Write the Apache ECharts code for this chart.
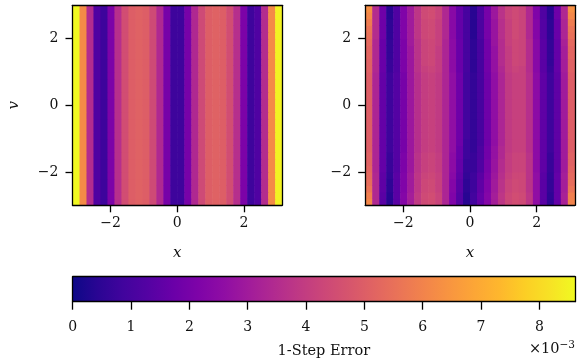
<!DOCTYPE html>
<html><head><meta charset="utf-8">
<script src="https://cdn.jsdelivr.net/npm/echarts@6/dist/echarts.min.js"></script>
<style>html,body{margin:0;padding:0;background:#fff}#c{width:581px;height:361px}</style>
</head><body><div id="c"></div>
<script>
// ---- data (error values in units of 1e-3) ----
const xRange = [-Math.PI, Math.PI];
const vRange = [-3, 3];
const xTicks = [-2, 0, 2];
const vTicks = [-2, 0, 2];
const cbTicks = [0, 1, 2, 3, 4, 5, 6, 7, 8];
const errMax = 8.61;
// left panel: error per x-column, constant along v
const leftCols = [8.6, 6.2, 3.5, 1.2, 0.8, 2.1, 3.6, 4.5, 5.0, 5.1, 5.0, 4.4, 3.4, 2.0, 0.8,
                  0.8, 2.0, 3.4, 4.4, 5.0, 5.1, 5.0, 4.5, 3.6, 2.1, 0.8, 1.2, 3.5, 6.2, 8.5];
// right panel: rows from v = -3 (first) to v = 3 (last)
const rightRows = [
 [6.1,3.4,1.4,0.4,1.4,2.3,3.1,3.9,4.4,4.5,4.2,3.3,2.2,1.3,0.4,0.9,1.6,2.3,3.1,3.8,4.3,4.5,4.4,3.8,2.6,1.4,0.5,1.6,3.2,6.0],
 [5.9,3.4,1.4,0.4,1.4,2.3,3.1,3.9,4.4,4.5,4.2,3.3,2.2,1.3,0.4,0.9,1.6,2.3,3.1,3.8,4.3,4.5,4.4,3.8,2.6,1.4,0.5,1.6,3.2,5.9],
 [5.6,3.4,1.5,0.5,1.4,2.2,3.0,3.8,4.3,4.4,4.1,3.3,2.3,1.4,0.5,0.8,1.5,2.2,3.0,3.7,4.2,4.4,4.3,3.7,2.6,1.4,0.6,1.6,3.1,5.6],
 [5.4,3.4,1.5,0.5,1.4,2.2,3.0,3.8,4.3,4.4,4.1,3.3,2.3,1.4,0.5,0.8,1.5,2.2,3.0,3.7,4.2,4.4,4.3,3.7,2.6,1.4,0.6,1.6,3.1,5.4],
 [5.3,3.4,1.5,0.6,1.4,2.2,3.0,3.8,4.2,4.3,4.1,3.3,2.4,1.5,0.6,0.8,1.4,2.1,2.9,3.6,4.1,4.3,4.3,3.7,2.6,1.4,0.6,1.6,3.1,5.3],
 [5.2,3.3,1.6,0.7,1.3,2.1,2.9,3.7,4.1,4.2,4.0,3.3,2.5,1.6,0.7,0.7,1.2,2.0,2.8,3.5,4.0,4.2,4.2,3.7,2.5,1.5,0.7,1.5,3.0,5.2],
 [5.1,3.3,1.6,0.7,1.3,2.1,2.9,3.7,4.1,4.2,4.0,3.3,2.5,1.6,0.7,0.7,1.2,2.0,2.8,3.5,4.0,4.2,4.2,3.7,2.5,1.5,0.7,1.5,3.0,5.1],
 [5.1,3.3,1.6,0.7,1.3,2.1,2.9,3.7,4.1,4.2,4.0,3.3,2.5,1.7,0.8,0.7,1.1,1.9,2.7,3.4,4.0,4.2,4.2,3.7,2.5,1.5,0.7,1.5,3.0,5.1],
 [5.0,3.3,1.6,0.8,1.3,2.0,2.9,3.6,4.0,4.1,3.9,3.3,2.6,1.7,0.8,0.6,1.1,1.9,2.7,3.4,3.9,4.1,4.1,3.6,2.5,1.5,0.8,1.5,3.0,5.0],
 [5.0,3.3,1.6,0.8,1.3,2.0,2.9,3.6,4.0,4.1,3.9,3.3,2.6,1.8,0.8,0.6,1.0,1.8,2.6,3.3,3.9,4.1,4.1,3.6,2.5,1.5,0.8,1.5,3.0,5.0],
 [5.0,3.3,1.6,0.8,1.3,2.0,2.9,3.6,4.0,4.1,3.9,3.3,2.6,1.8,0.9,0.6,1.0,1.8,2.6,3.3,3.9,4.1,4.1,3.6,2.5,1.5,0.8,1.5,3.0,5.0],
 [5.0,3.3,1.6,0.8,1.3,2.0,2.9,3.6,4.0,4.1,3.9,3.3,2.6,1.8,0.9,0.6,1.0,1.8,2.6,3.3,3.9,4.1,4.1,3.6,2.5,1.5,0.8,1.5,3.0,5.0],
 [5.0,3.3,1.6,0.8,1.3,2.0,2.9,3.6,4.0,4.1,3.9,3.3,2.6,1.8,0.9,0.6,1.0,1.8,2.6,3.3,3.9,4.1,4.1,3.6,2.5,1.5,0.8,1.5,3.0,5.0],
 [5.0,3.3,1.6,0.8,1.3,2.0,2.9,3.6,4.0,4.1,3.9,3.3,2.6,1.8,0.9,0.6,1.0,1.8,2.6,3.3,3.9,4.1,4.1,3.6,2.5,1.5,0.8,1.5,3.0,5.0],
 [5.0,3.3,1.6,0.8,1.3,2.0,2.9,3.6,4.0,4.1,3.9,3.3,2.6,1.8,0.9,0.6,1.0,1.8,2.6,3.3,3.9,4.1,4.1,3.6,2.5,1.5,0.8,1.5,3.0,5.0],
 [5.0,3.3,1.6,0.8,1.3,2.0,2.9,3.6,4.0,4.1,3.9,3.3,2.6,1.8,0.9,0.6,1.0,1.8,2.6,3.3,3.9,4.1,4.1,3.6,2.5,1.5,0.8,1.5,3.0,5.0],
 [5.0,3.3,1.6,0.8,1.3,2.0,2.9,3.6,4.0,4.1,3.9,3.3,2.6,1.8,0.9,0.6,1.0,1.8,2.6,3.3,3.9,4.1,4.1,3.6,2.5,1.5,0.8,1.5,3.0,5.0],
 [5.0,3.3,1.6,0.8,1.3,2.0,2.9,3.6,4.0,4.1,3.9,3.3,2.6,1.8,0.9,0.6,1.0,1.8,2.6,3.3,3.9,4.1,4.1,3.6,2.5,1.5,0.8,1.5,3.0,5.0],
 [5.0,3.3,1.6,0.8,1.3,2.0,2.9,3.6,4.0,4.1,3.9,3.3,2.6,1.8,0.9,0.6,1.0,1.8,2.6,3.3,3.9,4.1,4.1,3.6,2.5,1.5,0.8,1.5,3.0,5.0],
 [5.0,3.3,1.6,0.8,1.3,2.0,2.9,3.6,4.0,4.1,3.9,3.3,2.6,1.8,0.9,0.6,1.0,1.8,2.6,3.3,3.9,4.1,4.1,3.6,2.5,1.5,0.8,1.5,3.0,5.0],
 [5.1,3.4,1.7,0.7,1.2,2.1,2.9,3.7,4.1,4.2,4.0,3.3,2.5,1.7,1.0,0.5,1.0,1.9,2.7,3.4,4.0,4.2,4.1,3.5,2.4,1.4,0.7,1.6,3.1,5.1],
 [5.1,3.4,1.7,0.7,1.2,2.1,2.9,3.7,4.2,4.3,4.0,3.3,2.5,1.7,1.0,0.5,1.0,1.9,2.7,3.5,4.0,4.3,4.2,3.5,2.4,1.4,0.6,1.6,3.1,5.1],
 [5.2,3.4,1.7,0.6,1.2,2.1,2.9,3.7,4.2,4.3,4.0,3.3,2.5,1.7,1.0,0.5,1.0,1.9,2.7,3.5,4.0,4.3,4.2,3.5,2.4,1.4,0.6,1.6,3.1,5.2],
 [5.2,3.4,1.7,0.6,1.2,2.1,2.9,3.7,4.2,4.3,4.0,3.3,2.5,1.7,1.0,0.5,1.0,1.9,2.7,3.5,4.0,4.3,4.2,3.5,2.4,1.4,0.6,1.6,3.1,5.2],
 [5.3,3.4,1.7,0.6,1.2,2.1,3.0,3.7,4.2,4.3,4.1,3.3,2.5,1.7,1.0,0.5,1.0,1.9,2.8,3.5,4.1,4.3,4.2,3.5,2.4,1.4,0.6,1.6,3.2,5.3],
 [5.5,3.5,1.8,0.5,1.2,2.2,3.0,3.8,4.3,4.4,4.1,3.4,2.4,1.6,1.0,0.4,1.1,2.0,2.8,3.6,4.1,4.4,4.2,3.4,2.3,1.3,0.5,1.7,3.3,5.5],
 [5.6,3.5,1.8,0.5,1.2,2.2,3.0,3.8,4.3,4.4,4.1,3.4,2.4,1.6,1.0,0.4,1.1,2.0,2.8,3.6,4.1,4.4,4.2,3.4,2.3,1.3,0.5,1.7,3.3,5.6],
 [5.8,3.5,1.8,0.5,1.2,2.2,3.0,3.8,4.3,4.4,4.1,3.4,2.4,1.6,1.0,0.4,1.1,2.0,2.8,3.6,4.1,4.4,4.2,3.4,2.3,1.3,0.5,1.7,3.3,5.8],
 [6.1,3.5,1.8,0.4,1.2,2.2,3.0,3.8,4.4,4.5,4.2,3.4,2.4,1.6,1.0,0.4,1.1,2.0,2.9,3.7,4.2,4.4,4.2,3.4,2.2,1.2,0.4,1.8,3.4,6.1],
 [6.3,3.5,1.8,0.4,1.2,2.2,3.0,3.8,4.4,4.5,4.2,3.4,2.4,1.6,1.0,0.4,1.1,2.0,2.9,3.7,4.2,4.4,4.2,3.4,2.2,1.2,0.4,1.8,3.4,6.3]
];
const plasma = ['#0d0887','#2a0593','#41049d','#5402a3','#6a00a8','#7e03a8','#8f0da4','#a11b9b',
  '#b12a90','#bf3984','#cc4778','#d6556d','#e16462','#ea7457','#f2844b','#f89540','#fca636',
  '#feb72d','#fcce25','#f7e225','#f0f921'];

// ---- build ----
const nx = leftCols.length, nv = rightRows.length;
const dx = (xRange[1] - xRange[0]) / nx, dv = (vRange[1] - vRange[0]) / nv;
const leftData = [], rightData = [];
for (let r = 0; r < nv; r++) {
  const vc = vRange[0] + (r + 0.5) * dv;
  for (let c = 0; c < nx; c++) {
    const xc = xRange[0] + (c + 0.5) * dx;
    leftData.push([xc, vc, leftCols[c]]);
    rightData.push([xc, vc, rightRows[r][c]]);
  }
}
const FONT = 'DejaVu Serif';
const TXT = '#111';
const fmt = v => (v < 0 ? '\u2212' + Math.abs(v) : String(v));
function cellItem(params, api) {
  const x = api.value(0), v = api.value(1);
  const p0 = api.coord([x - dx / 2, v + dv / 2]);
  const p1 = api.coord([x + dx / 2, v - dv / 2]);
  const col = api.visual('color');
  return { type: 'rect', shape: { x: p0[0], y: p0[1], width: p1[0] - p0[0] + 0.6, height: p1[1] - p0[1] + 0.6 },
           style: { fill: col } };
}
const G = [
  { left: 72.5, top: 5.3, width: 209.6, height: 200 },
  { left: 365.2, top: 5.3, width: 209.6, height: 200 },
  { left: 72.7, top: 276.7, width: 502.3, height: 25 }
];
const lineStyle = { color: '#000', width: 1.3 };
function mainX(gi, withName) {
  return [{
    gridIndex: gi, type: 'value', min: xRange[0], max: xRange[1], z: 10,
    axisLine: { show: true, onZero: false, lineStyle },
    axisTick: { show: true, customValues: xTicks, length: 7, lineStyle },
    axisLabel: { customValues: xTicks, formatter: fmt, fontFamily: FONT, fontSize: 14, color: TXT, margin: 11 },
    splitLine: { show: false },
    name: withName ? 'x' : '', nameLocation: 'middle', nameGap: 40,
    nameTextStyle: { fontFamily: FONT, fontStyle: 'italic', fontSize: 15, color: TXT }
  }, {
    gridIndex: gi, type: 'value', position: 'top', min: xRange[0], max: xRange[1], z: 10,
    axisLine: { show: true, onZero: false, lineStyle }, axisTick: { show: false },
    axisLabel: { show: false }, splitLine: { show: false }
  }];
}
function mainY(gi, withName) {
  return [{
    gridIndex: gi, type: 'value', min: vRange[0], max: vRange[1], z: 10,
    axisLine: { show: true, onZero: false, lineStyle },
    axisTick: { show: true, customValues: vTicks, length: 7, lineStyle },
    axisLabel: { customValues: vTicks, formatter: fmt, fontFamily: FONT, fontSize: 14, color: TXT, margin: 14 },
    splitLine: { show: false },
    name: withName ? 'v' : '', nameLocation: 'middle', nameGap: 51, nameRotate: 90,
    nameTextStyle: { fontFamily: FONT, fontStyle: 'italic', fontSize: 15, color: TXT }
  }, {
    gridIndex: gi, type: 'value', position: 'right', min: vRange[0], max: vRange[1], z: 10,
    axisLine: { show: true, onZero: false, lineStyle }, axisTick: { show: false },
    axisLabel: { show: false }, splitLine: { show: false }
  }];
}
const xAxes = [...mainX(0, true), ...mainX(1, true), {
  gridIndex: 2, type: 'value', min: 0, max: errMax, interval: 1, z: 10,
  axisLine: { show: true, onZero: false, lineStyle },
  axisTick: { show: true, length: 8, lineStyle },
  axisLabel: { fontFamily: FONT, fontSize: 14, color: TXT, margin: 19, showMaxLabel: false },
  splitLine: { show: false },
  name: '1-Step Error', nameLocation: 'middle', nameGap: 42,
  nameTextStyle: { fontFamily: FONT, fontSize: 14.5, color: TXT }
}, {
  gridIndex: 2, type: 'value', position: 'top', min: 0, max: errMax, z: 10,
  axisLine: { show: true, onZero: false, lineStyle }, axisTick: { show: false },
  axisLabel: { show: false }, splitLine: { show: false }
}];
const yAxes = [...mainY(0, true), ...mainY(1, false), {
  gridIndex: 2, type: 'value', min: 0, max: 1, z: 10,
  axisLine: { show: true, onZero: false, lineStyle }, axisTick: { show: false },
  axisLabel: { show: false }, splitLine: { show: false }
}, {
  gridIndex: 2, type: 'value', position: 'right', min: 0, max: 1, z: 10,
  axisLine: { show: true, onZero: false, lineStyle }, axisTick: { show: false },
  axisLabel: { show: false }, splitLine: { show: false }
}];
const chart = echarts.init(document.getElementById('c'), null, { renderer: 'canvas' });
chart.setOption({
  animation: false,
  backgroundColor: '#fff',
  grid: G,
  xAxis: xAxes,
  yAxis: yAxes,
  visualMap: { type: 'continuous', show: false, min: 0, max: errMax, dimension: 2,
               seriesIndex: [0, 1], inRange: { color: plasma } },
  series: [
    { type: 'custom', xAxisIndex: 0, yAxisIndex: 0, data: leftData, renderItem: cellItem, clip: true,
      encode: { x: 0, y: 1 } },
    { type: 'custom', xAxisIndex: 2, yAxisIndex: 2, data: rightData, renderItem: cellItem, clip: true,
      encode: { x: 0, y: 1 } },
    { type: 'custom', xAxisIndex: 4, yAxisIndex: 4, data: [[0, errMax]], clip: true,
      renderItem: function (params, api) {
        const p0 = api.coord([api.value(0), 1]);
        const p1 = api.coord([api.value(1), 0]);
        return { type: 'rect', shape: { x: p0[0], y: p0[1], width: p1[0] - p0[0], height: p1[1] - p0[1] },
          style: { fill: new echarts.graphic.LinearGradient(0, 0, 1, 0,
            plasma.map((c, i) => ({ offset: i / (plasma.length - 1), color: c }))) } };
      } }
  ],
  graphic: [{
    type: 'text', x: 575, y: 349,
    style: { text: '×10{s|−3}', align: 'right', verticalAlign: 'middle',
      font: '14.5px "DejaVu Serif"', fill: TXT,
      rich: { s: { fontSize: 10.5, fontFamily: FONT, verticalAlign: 'top', padding: [0, 0, 8, 0], fill: TXT } } }
  }]
});
</script></body></html>
